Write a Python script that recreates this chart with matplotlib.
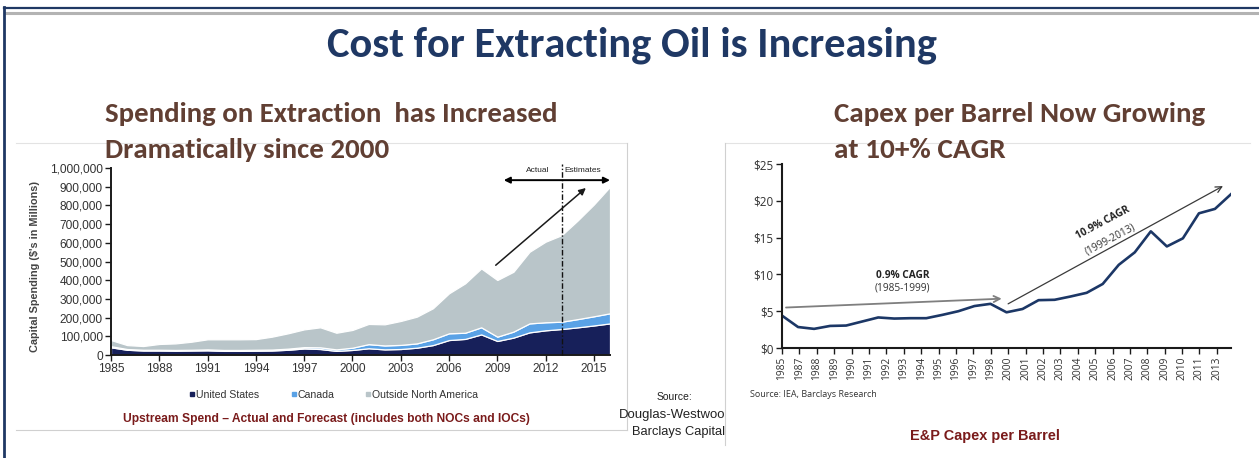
import numpy as np
import matplotlib
matplotlib.use('Agg')
import matplotlib.pyplot as plt
from matplotlib.lines import Line2D
from matplotlib.ticker import FuncFormatter
from matplotlib import font_manager as fm

W, H = 1259, 458
fig = plt.figure(figsize=(W / 100, H / 100), dpi=100)
fig.patch.set_facecolor('white')

names = {f.name for f in fm.fontManager.ttflist}
NARROW = 'Liberation Sans Narrow' if 'Liberation Sans Narrow' in names else 'Liberation Sans'
HEAD = 'Carlito' if 'Carlito' in names else 'Lato'
CHART = 'Open Sans'

# ---------------- data ----------------
years = np.arange(1985, 2017)
us_k = [41, 28, 24, 24, 23, 24, 25, 22, 22, 23, 24, 28, 35, 32, 22, 27, 36, 30, 32, 39,
        53, 80, 86, 110, 75, 93, 121, 132, 139, 148, 158, 169]
canada_k = [6, 4, 4, 4, 4, 4, 5, 5, 5, 5, 5, 6, 7, 9, 8, 12, 22, 21, 22, 23,
            31, 36, 33, 38, 23, 32, 48, 43, 39, 44, 49, 54]
outside_k = [33, 21, 20, 31, 35, 43, 54, 57, 57, 57, 69, 82, 95, 107, 89, 95, 108, 113, 128, 143,
             166, 214, 264, 315, 303, 320, 383, 431, 463, 528, 598, 677]
left_tick_years = np.arange(1985, 2016, 3)
series_names = ['United States', 'Canada', 'Outside North America']
split_year = 2013

capex_years = np.arange(1985, 2014)
capex = [4.4, 2.85, 2.6, 3.0, 3.05, 3.6, 4.15, 4.0, 4.05, 4.05, 4.5, 5.0, 5.7, 6.0,
         4.85, 5.3, 6.5, 6.55, 7.0, 7.5, 8.7, 11.3, 13.0, 15.85, 13.8, 14.9, 18.3, 18.9, 20.9]
capex_labels = ['1985', '1987', '1988', '1989', '1990', '1991', '1992', '1993', '1994', '1995',
                '1996', '1997', '1998', '2000', '2001', '2002', '2003', '2004', '2005', '2006',
                '2007', '2008', '2009', '2010', '2011', '2013']

NAVY = '#17205A'
BLUE = '#5AA2E6'
GRAY = '#B9C5C9'
LINE = '#1C3766'
TITLE = '#1F3864'
BROWN = '#613F33'
RED = '#7A1B1B'
TXT = '#333333'


def P(x, y):
    return (x / W, 1 - y / H)


def fline(x0, y0, x1, y1, color, lw):
    fig.add_artist(Line2D([x0 / W, x1 / W], [1 - y0 / H, 1 - y1 / H],
                          transform=fig.transFigure, color=color, lw=lw))


renderer = fig.canvas.get_renderer()


def fit(t, w):
    bb = t.get_window_extent(renderer)
    t.set_fontsize(t.get_fontsize() * w / bb.width)
    return t


def ftext(x, y, s, w, ha='left', va='baseline', **kw):
    t = fig.text(*P(x, y), s, ha=ha, va=va, fontsize=10, **kw)
    return fit(t, w)


# ---------------- slide frame ----------------
fline(4, 8, W, 8, TITLE, 1.6)
fline(6, 12.5, W, 12.5, '#B3B3B3', 2.2)
fline(4, 7, 4, H, TITLE, 2.0)
fline(16, 143, 627, 143, '#E3E3E3', 0.8)
fline(627, 143, 627, 430, '#D0D0D0', 0.8)
fline(16, 430, 627, 430, '#D0D0D0', 0.8)
fline(725, 143, 1250, 143, '#E3E3E3', 0.8)
fline(725, 143, 725, 445, '#D0D0D0', 0.8)

# ---------------- headings ----------------
ftext(632, 56.5, 'Cost for Extracting Oil is Increasing', 612, ha='center',
      color=TITLE, family=HEAD, weight='bold')
ftext(105, 122.5, 'Spending on Extraction  has Increased', 452, color=BROWN, family=HEAD, weight='bold')
ftext(105, 157.5, 'Dramatically since 2000', 285, color=BROWN, family=HEAD, weight='bold')
ftext(834, 122.5, 'Capex per Barrel Now Growing', 372, color=BROWN, family=HEAD, weight='bold')
ftext(834, 157.5, 'at 10+% CAGR', 171, color=BROWN, family=HEAD, weight='bold')

# ---------------- left chart ----------------
axL = fig.add_axes([111 / W, 1 - 355 / H, 499 / W, 187 / H])
axL.stackplot(years, np.array(us_k) * 1000, np.array(canada_k) * 1000, np.array(outside_k) * 1000,
              colors=[NAVY, BLUE, GRAY], edgecolor='white', linewidth=0.9, labels=series_names)
axL.set_xlim(1985, 2016)
axL.set_ylim(0, 1_000_000)
axL.set_xticks(left_tick_years)
axL.set_yticks(np.arange(0, 1_000_001, 100_000))
axL.yaxis.set_major_formatter(FuncFormatter(lambda v, p: f'{v:,.0f}'))
for s in ['top', 'right']:
    axL.spines[s].set_visible(False)
for s in ['left', 'bottom']:
    axL.spines[s].set_color('#1a1a1a')
    axL.spines[s].set_linewidth(1.4)
axL.tick_params(direction='out', length=4, width=1, colors='#1a1a1a', labelcolor=TXT,
                labelsize=7.2, pad=2)
for lab in axL.get_xticklabels() + axL.get_yticklabels():
    lab.set_family(NARROW)
    lab.set_fontsize(8.6)
axL.set_facecolor('none')

axL.axvline(split_year, ymin=0, ymax=1.02, color='#111111', lw=1.0,
            ls=(0, (4, 1.5, 1, 1.5)), clip_on=False, zorder=3)
axL.annotate('', xy=(2016, 935_000), xytext=(2009.4, 935_000),
             arrowprops=dict(arrowstyle='<|-|>', color='black', lw=1.4, mutation_scale=9,
                             shrinkA=0, shrinkB=0), annotation_clip=False)
axL.text(2011.5, 985_000, 'Actual', ha='center', va='center', fontsize=6.0, family=NARROW, color='#222222')
axL.text(2014.3, 985_000, 'Estimates', ha='center', va='center', fontsize=6.0, family=NARROW, color='#222222')
axL.annotate('', xy=(2014.5, 893_000), xytext=(2008.9, 480_000),
             arrowprops=dict(arrowstyle='-|>', color='#1a1a1a', lw=1.1, mutation_scale=10,
                             shrinkA=0, shrinkB=0), annotation_clip=False)

yl = fig.text(*P(35, 267), "Capital Spending ($'s in Millions)", ha='center', va='center',
              fontsize=8, family=NARROW, weight='bold', color='#444444')
fit(yl, 171)
yl.set_rotation(90)

handles = [Line2D([], [], marker='s', ls='', color=c, markersize=3)
           for c in [NAVY, BLUE, GRAY]]
leg = fig.legend(handles, series_names, loc='center', bbox_to_anchor=P(334, 395), ncol=3,
                 frameon=False, handlelength=0.5, handletextpad=0.1, columnspacing=3.0,
                 prop={'family': NARROW, 'size': 7.6})
for t in leg.get_texts():
    t.set_color(TXT)

ftext(326, 422, 'Upstream Spend \u2013 Actual and Forecast (includes both NOCs and IOCs)', 407,
      ha='center', color=RED, family=NARROW, weight='bold')

ftext(674, 400, 'Source:', 36, ha='center', color='#222222', family='Liberation Sans')
ftext(725, 418, 'Douglas-Westwoo', 106, ha='right', color='#222222', family='Liberation Sans')
ftext(725, 435, 'Barclays Capital', 93, ha='right', color='#222222', family='Liberation Sans')

# ---------------- right chart ----------------
axR = fig.add_axes([782 / W, 1 - 348 / H, 449 / W, 184 / H])
axR.plot(capex_years, capex, color=LINE, lw=1.9, solid_joinstyle='round')
axR.set_xlim(1985, 2013)
axR.set_ylim(0, 25)
axR.set_yticks(np.arange(0, 26, 5))
axR.yaxis.set_major_formatter(FuncFormatter(lambda v, p: f'${v:.0f}'))
axR.set_xticks(np.linspace(1985, 2012.12, len(capex_labels)))
axR.set_xticklabels(capex_labels, rotation=90)
for s in ['top', 'right']:
    axR.spines[s].set_visible(False)
for s in ['left', 'bottom']:
    axR.spines[s].set_color('#1a1a1a')
    axR.spines[s].set_linewidth(1.5)
axR.tick_params(direction='out', length=4, width=1, colors='#1a1a1a', labelcolor=TXT, pad=2)
for lab in axR.get_yticklabels():
    lab.set_family(CHART)
    lab.set_fontsize(8.4)
for lab in axR.get_xticklabels():
    lab.set_family(CHART)
    lab.set_fontsize(7.4)
axR.set_facecolor('none')

axR.annotate('', xy=(1998.7, 6.7), xytext=(1985.25, 5.5),
             arrowprops=dict(arrowstyle='->', color='#7F7F7F', lw=1.3, mutation_scale=11,
                             shrinkA=0, shrinkB=0))
axR.annotate('', xy=(2012.5, 22.0), xytext=(1999.1, 6.0),
             arrowprops=dict(arrowstyle='->', color='#3a3a3a', lw=0.9, mutation_scale=11,
                             shrinkA=0, shrinkB=0))
axR.text(1992.5, 9.8, '0.9% CAGR', ha='center', va='center', fontsize=7.3, family=CHART,
         weight='bold', color='#222222')
axR.text(1992.5, 8.2, '(1985-1999)', ha='center', va='center', fontsize=7.3, family=CHART,
         color='#333333')
axR.text(2005.0, 17.0, '10.9% CAGR', ha='center', va='center', fontsize=7.3, family=CHART,
         weight='bold', color='#222222', rotation=28, rotation_mode='anchor')
axR.text(2005.45, 14.7, '(1999-2013)', ha='center', va='center', fontsize=7.3, family=CHART,
         color='#333333', rotation=28, rotation_mode='anchor')

ftext(750, 397, 'Source: IEA, Barclays Research', 127, color='#333333', family=CHART)
ftext(985, 440, 'E&P Capex per Barrel', 150, ha='center', color=RED, family='Liberation Sans',
      weight='bold')

fig.savefig('out.png', dpi=100, facecolor='white')
